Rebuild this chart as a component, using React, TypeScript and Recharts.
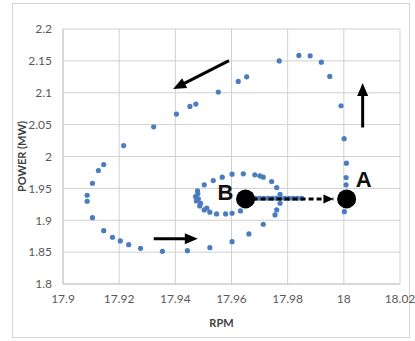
import React from 'react';
import { ScatterChart, Scatter, XAxis, YAxis, CartesianGrid, ReferenceLine } from 'recharts';

// loop of measured operating points (rpm, MW)
const rpm = [
  18.0002, 18.0008, 18.0008, 18.0009, 18.0001, 17.999, 17.995, 17.992, 17.988, 17.984,
  17.977, 17.9654, 17.9624, 17.9553, 17.9473, 17.9452, 17.9404, 17.9323, 17.9216, 17.9145,
  17.9126, 17.9105, 17.9086, 17.9086, 17.9105, 17.9145, 17.9176, 17.9204, 17.9234, 17.9276,
  17.9354, 17.9443, 17.9523, 17.9602, 17.9662, 17.9713, 17.9755, 17.9761, 17.9773, 17.9773,
  17.9761, 17.9743, 17.9713, 17.9701, 17.9683, 17.9642, 17.9602, 17.9567, 17.9535, 17.9503,
  17.9479, 17.9472, 17.9475, 17.9487, 17.9503, 17.9523, 17.9547, 17.9579, 17.9602, 17.9632,
  17.948, 17.9482, 17.949, 17.9512,
];
const power = [
  1.9135, 1.9555, 1.967, 1.9895, 2.028, 2.0796, 2.1256, 2.148, 2.158, 2.1586,
  2.15, 2.125, 2.1178, 2.101, 2.0822, 2.0785, 2.0665, 2.0466, 2.0172, 1.9874,
  1.978, 1.958, 1.9392, 1.9298, 1.904, 1.8837, 1.8733, 1.8675, 1.8617, 1.856,
  1.8513, 1.8523, 1.857, 1.8664, 1.8785, 1.8937, 1.9083, 1.9162, 1.9267, 1.9408,
  1.9513, 1.9607, 1.9675, 1.9696, 1.9712, 1.9728, 1.9722, 1.9675, 1.9623, 1.9555,
  1.946, 1.9372, 1.9303, 1.9225, 1.9162, 1.9126, 1.91, 1.91, 1.911, 1.9146,
  1.9415, 1.9335, 1.9265, 1.919,
];

// transition row from B towards A
const pathRpm = [17.967, 17.9685, 17.97, 17.9715, 17.973, 17.9745, 17.976, 17.9775, 17.979, 17.9805, 17.982, 17.9835, 17.985];
const pathPower = [1.9345, 1.9345, 1.9345, 1.9345, 1.9345, 1.9345, 1.9345, 1.9345, 1.9345, 1.9345, 1.9345, 1.9345, 1.9345];

const stateNames = ['B', 'A'];
const stateRpm = [17.965, 18.001];
const statePower = [1.9335, 1.9335];

// dashed B -> A move
const moveRpm = [17.9675, 17.9963];
const movePower = [1.9335, 1.9335];

const xTicks = [17.9, 17.92, 17.94, 17.96, 17.98, 18, 18.02];
const yTicks = [1.8, 1.85, 1.9, 1.95, 2, 2.05, 2.1, 2.15, 2.2];

// solid arrows: [x1, y1, x2, y2]
const arrows: [number, number, number, number][] = [
  [17.9591, 2.1503, 17.9392, 2.1058],
  [17.9323, 1.8711, 17.948, 1.8711],
  [18.0067, 2.0455, 18.0067, 2.1152],
];

const loopData = rpm.map((x, i) => ({ x, y: power[i] }));
const pathData = pathRpm.map((x, i) => ({ x, y: pathPower[i] }));
const stateData = stateNames.map((name, i) => ({ name, x: stateRpm[i], y: statePower[i] }));
const moveData = moveRpm.map((x, i) => ({ x, y: movePower[i], end: i === moveRpm.length - 1 }));

const tickStyle = { fill: '#595959', fontSize: 12, fontFamily: 'Lato, sans-serif' };

const Dot = (props: any) => <circle cx={props.cx} cy={props.cy} r={2.6} fill="#4a7cc0" />;

const StateDot = (props: any) => {
  const { cx, cy, payload } = props;
  const isB = payload.name === 'B';
  return (
    <g>
      <circle cx={cx} cy={cy} r={9.5} fill="#000" />
      <text
        x={isB ? cx - 20 : cx + 17}
        y={isB ? cy - 6 : cy - 19}
        textAnchor="middle"
        dominantBaseline="central"
        fontSize={22}
        fontWeight="bold"
        fontFamily="'Liberation Sans', Arial, sans-serif"
        fill="#111"
      >
        {payload.name}
      </text>
    </g>
  );
};

// arrowhead at the end of the dashed move
const MoveHead = (props: any) => {
  const { cx, cy, payload } = props;
  if (!payload.end) return <g />;
  return <polygon points={`${cx},${cy} ${cx - 10},${cy - 4.5} ${cx - 10},${cy + 4.5}`} fill="#000" />;
};

const Arrow = (props: any) => {
  const { x1, y1, x2, y2 } = props;
  const dx = x2 - x1;
  const dy = y2 - y1;
  const len = Math.sqrt(dx * dx + dy * dy) || 1;
  const ux = dx / len;
  const uy = dy / len;
  const head = 13;
  const half = 5.5;
  const bx = x2 - ux * head;
  const by = y2 - uy * head;
  const pts = `${x2},${y2} ${bx - uy * half},${by + ux * half} ${bx + uy * half},${by - ux * half}`;
  return (
    <g>
      <line x1={x1} y1={y1} x2={bx + ux} y2={by + uy} stroke="#000" strokeWidth={3} />
      <polygon points={pts} fill="#000" />
    </g>
  );
};

export default function App() {
  return (
    <div style={{ position: 'fixed', left: 0, top: 0, width: 415, height: 341, background: '#fff' }}>
      <div
        style={{
          position: 'absolute',
          left: 12,
          top: 3,
          width: 396,
          height: 333,
          border: '1px solid #d4d4d4',
        }}
      />
      <div style={{ position: 'absolute', left: 0, top: 0 }}>
        <ScatterChart width={415} height={341} margin={{ top: 29, right: 15, bottom: 4, left: 13 }}>
          <CartesianGrid stroke="#d0d0d0" strokeWidth={1} />
          <XAxis
            type="number"
            dataKey="x"
            domain={[17.9, 18.02]}
            ticks={xTicks}
            height={53}
            tickLine={false}
            axisLine={{ stroke: '#c8c8c8' }}
            tick={tickStyle}
            tickMargin={4}
            label={{
              value: 'RPM',
              position: 'insideBottom',
              offset: 10,
              dx: -10,
              style: { fill: '#404040', fontSize: 11, fontWeight: 'bold', fontFamily: 'Lato, sans-serif' },
            }}
          />
          <YAxis
            type="number"
            dataKey="y"
            domain={[1.8, 2.2]}
            ticks={yTicks}
            width={50}
            tickLine={false}
            axisLine={{ stroke: '#c8c8c8' }}
            tick={tickStyle}
            tickMargin={5}
            label={{
              value: 'POWER (MW)',
              angle: -90,
              position: 'insideLeft',
              offset: 9,
              style: { textAnchor: 'middle', fill: '#404040', fontSize: 11, fontWeight: 'bold', fontFamily: 'Lato, sans-serif' },
            }}
          />
          {arrows.map((a, i) => (
            <ReferenceLine
              key={i}
              segment={[
                { x: a[0], y: a[1] },
                { x: a[2], y: a[3] },
              ]}
              shape={Arrow}
            />
          ))}
          <Scatter data={loopData} shape={Dot} isAnimationActive={false} />
          <Scatter data={pathData} shape={Dot} isAnimationActive={false} />
          <Scatter
            data={moveData}
            shape={MoveHead}
            line={{ stroke: '#000', strokeWidth: 3, strokeDasharray: '5 3' }}
            isAnimationActive={false}
          />
          <Scatter data={stateData} shape={StateDot} isAnimationActive={false} />
        </ScatterChart>
      </div>
    </div>
  );
}
